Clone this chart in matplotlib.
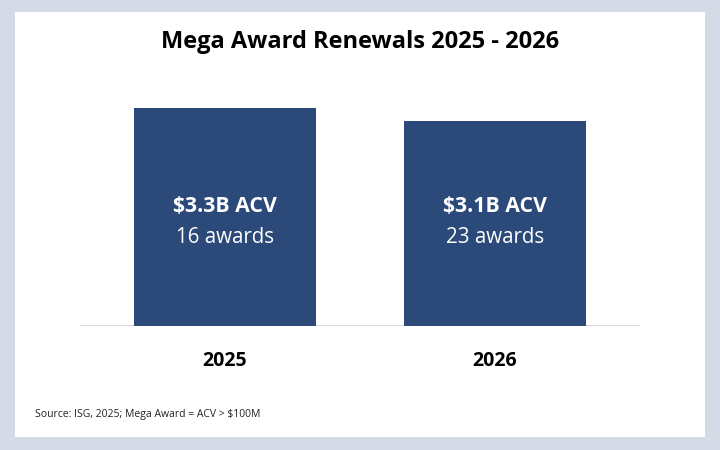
import matplotlib
matplotlib.use('Agg')
import matplotlib.pyplot as plt
from matplotlib.patches import Rectangle

# data
years = ['2025', '2026']
acv_billions = [3.3, 3.1]
award_counts = [16, 23]

plt.rcParams['font.family'] = ['Open Sans', 'DejaVu Sans']

fig = plt.figure(figsize=(7.2, 4.5), dpi=100)
fig.patch.set_facecolor('#d5dbe6')

# white card behind the chart
card = Rectangle((15 / 720, 13 / 450), 690 / 720, 425 / 450,
                 transform=fig.transFigure, facecolor='white',
                 edgecolor='none', zorder=-1)
fig.add_artist(card)

ax = fig.add_axes([80 / 720, 124 / 450, 560 / 720, 246 / 450])
ax.set_facecolor('none')
ax.set_zorder(1)

x = list(range(len(years)))
bars = ax.bar(x, acv_billions, width=0.674, color='#2b4a7a', zorder=2)

ax.set_xlim(-0.537, 1.537)
ax.set_ylim(0, 3.724)

for xi, val, n in zip(x, acv_billions, award_counts):
    ax.text(xi, 1.81, f'${val:.1f}B ACV', ha='center', va='center',
            color='white', fontsize=15.3, fontweight='bold', zorder=3)
    ax.text(xi, 1.34, f'{n} awards', ha='center', va='center',
            color='white', fontsize=14.8, zorder=3)

ax.axhline(0, color='#d6d6d6', linewidth=1.2, zorder=1)

ax.set_xticks(x)
ax.set_xticklabels(years, fontsize=14, fontweight='bold')
ax.tick_params(axis='x', length=0, pad=18)
ax.set_yticks([])
for s in ax.spines.values():
    s.set_visible(False)

fig.text(0.5, 1 - 42 / 450, 'Mega Award Renewals 2025 - 2026',
         ha='center', va='center', fontsize=17, fontweight='bold')
fig.text(35 / 720, 1 - 414 / 450, 'Source: ISG, 2025; Mega Award = ACV > $100M',
         ha='left', va='center', fontsize=7.5, color='#222222')

fig.savefig('out.png', dpi=100, facecolor=fig.get_facecolor())
